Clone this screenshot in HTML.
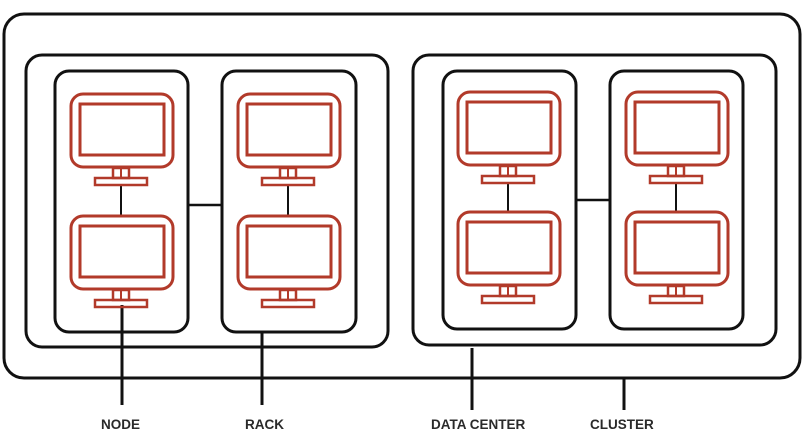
<!DOCTYPE html>
<html><head><meta charset="utf-8"><style>
html,body{margin:0;padding:0;background:#fff;}
svg{display:block}
text{font-family:"Liberation Sans",sans-serif;font-size:13.5px;fill:#2a2a2a;font-weight:bold;}
</style></head><body>
<svg width="807" height="446" viewBox="0 0 807 446">
<defs>
<g id="mon" fill="none" stroke="#b23a2a" stroke-width="3">
  <rect x="-50" y="0" width="102" height="73" rx="12"/>
  <rect x="-41" y="10" width="84" height="51"/>
  <rect x="-8" y="74" width="16" height="10" stroke-width="2.5"/>
  <line x1="0" y1="74" x2="0" y2="84" stroke-width="2"/>
  <rect x="-26" y="84" width="52" height="7" stroke-width="2.5"/>
</g>
</defs>
<g fill="none" stroke="#111" stroke-width="3">
  <rect x="4" y="14" width="796" height="364" rx="20"/>
  <rect x="26" y="55" width="362" height="292" rx="16"/>
  <rect x="413" y="55" width="363" height="290" rx="16"/>
  <rect x="55" y="71" width="133" height="261" rx="14"/>
  <rect x="222" y="71" width="134" height="261" rx="14"/>
  <rect x="443" y="71" width="133" height="258" rx="14"/>
  <rect x="610" y="71" width="133" height="258" rx="14"/>
  <line x1="188" y1="205" x2="222" y2="205" stroke-width="2.5"/>
  <line x1="576" y1="200" x2="610" y2="200" stroke-width="2.5"/>
  <g stroke-width="2">
  <line x1="121" y1="184" x2="121" y2="216"/>
  <line x1="288" y1="184" x2="288" y2="216"/>
  <line x1="508" y1="182" x2="508" y2="212"/>
  <line x1="676" y1="182" x2="676" y2="212"/>
  </g>
  <line x1="122" y1="305" x2="122" y2="405"/>
  <line x1="262" y1="333" x2="262" y2="405"/>
  <line x1="472" y1="348" x2="472" y2="410"/>
  <line x1="624" y1="377" x2="624" y2="410"/>
</g>
<use href="#mon" x="121" y="94"/>
<use href="#mon" x="121" y="216"/>
<use href="#mon" x="288" y="94"/>
<use href="#mon" x="288" y="216"/>
<use href="#mon" x="508" y="92"/>
<use href="#mon" x="508" y="212"/>
<use href="#mon" x="676" y="92"/>
<use href="#mon" x="676" y="212"/>
<text x="101" y="429">NODE</text>
<text x="245" y="429">RACK</text>
<text x="431" y="429">DATA CENTER</text>
<text x="590" y="429">CLUSTER</text>
</svg>
</body></html>
